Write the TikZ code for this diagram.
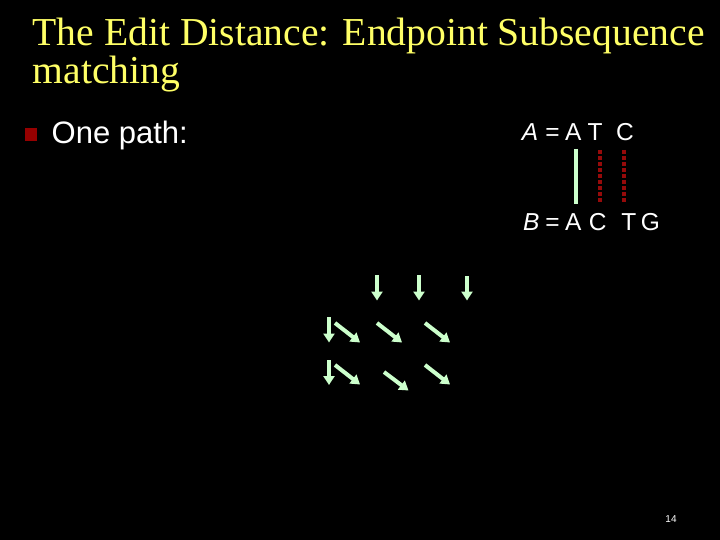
\documentclass[tikz,border=0pt]{standalone}
\usepackage{fontspec}
\setmainfont{Liberation Serif}
\newfontfamily\arialf{Liberation Sans}
\usetikzlibrary{arrows.meta}
\definecolor{titleyellow}{RGB}{255,255,102}
\definecolor{pathgreen}{RGB}{204,255,204}
\definecolor{bulletred}{RGB}{150,0,0}
\definecolor{dotred}{RGB}{150,10,10}
\begin{document}
\begin{tikzpicture}[x=1pt,y=-1pt,
  titletext/.style={anchor=base west, inner sep=0pt, text=titleyellow, font=\fontsize{39.6}{40}\selectfont},
  bodytext/.style={anchor=base west, inner sep=0pt, text=white, font=\arialf\fontsize{31}{31}\selectfont},
  seq/.style={anchor=base, inner sep=0pt, text=white, font=\arialf\fontsize{24.5}{25}\selectfont},
  matchbar/.style={draw=pathgreen, line width=4.5pt},
  mismatchbar/.style={draw=dotred, line width=4pt, dash pattern=on 4pt off 2pt},
  move/.style={draw=pathgreen, line width=4pt, -{Triangle[width=11pt,length=9pt]}}]
\useasboundingbox (0,0) rectangle (720,540);
\fill[black] (0,0) rectangle (720,540);
% title
\node[titletext] (t1) at (32.5,45.7) {The Edit Distance: Endpoint Subsequence};
\node[titletext] (t2) at (32.5,83.3) {matching};
% bullet
\fill[bulletred] (25,128) rectangle (37,141.5);
\node[bodytext] (onepath) at (51.5,143.3) {One path:};
% sequences
\node[seq] (aA) at (530,141) {\itshape A};
\node[seq] (aeq) at (552.5,141) {=};
\node[seq] (a1) at (573.3,141) {A};
\node[seq] (a2) at (595,141) {T};
\node[seq] (a3) at (625,141) {C};
\node[seq] (bB) at (531.3,230) {\itshape B};
\node[seq] (beq) at (552.5,230) {=};
\node[seq] (b1) at (573.3,230) {A};
\node[seq] (b2) at (597.8,230) {C};
\node[seq] (b3) at (628.8,230) {T};
\node[seq] (b4) at (650.3,230) {G};
% alignment bars
\coordinate (g1t) at (576,149); \coordinate (g1b) at (576,204);
\coordinate (r1t) at (600,150); \coordinate (r1b) at (600,203);
\coordinate (r2t) at (624,150); \coordinate (r2b) at (624,203);
\draw[matchbar] (g1t) -- (g1b);
\draw[mismatchbar] (r1t) -- (r1b);
\draw[mismatchbar] (r2t) -- (r2b);
% path arrows: top row (down)
\coordinate (d1s) at (377,275); \coordinate (d1e) at (377,300.5);
\coordinate (d2s) at (419,275); \coordinate (d2e) at (419,300.5);
\coordinate (d3s) at (467,276); \coordinate (d3e) at (467,300.5);
\draw[move] (d1s) -- (d1e);
\draw[move] (d2s) -- (d2e);
\draw[move] (d3s) -- (d3e);
% second row
\coordinate (v1s) at (329,317); \coordinate (v1e) at (329,342.5);
\coordinate (e1s) at (335,323); \coordinate (e1e) at (360,342.5);
\coordinate (e2s) at (377,323); \coordinate (e2e) at (402,342.5);
\coordinate (e3s) at (425,323); \coordinate (e3e) at (450,342.5);
\draw[move] (v1s) -- (v1e);
\draw[move] (e1s) -- (e1e);
\draw[move] (e2s) -- (e2e);
\draw[move] (e3s) -- (e3e);
% third row
\coordinate (v2s) at (329,360); \coordinate (v2e) at (329,385);
\coordinate (f1s) at (335,365); \coordinate (f1e) at (360,384.5);
\coordinate (f2s) at (384,372); \coordinate (f2e) at (408.5,390.5);
\coordinate (f3s) at (425,365); \coordinate (f3e) at (450,384.5);
\draw[move] (v2s) -- (v2e);
\draw[move] (f1s) -- (f1e);
\draw[move] (f2s) -- (f2e);
\draw[move] (f3s) -- (f3e);
% page number
\node[anchor=base, inner sep=0pt, text=white, font=\arialf\fontsize{10}{10}\selectfont] (pg) at (671,522) {14};
\end{tikzpicture}
\end{document}
